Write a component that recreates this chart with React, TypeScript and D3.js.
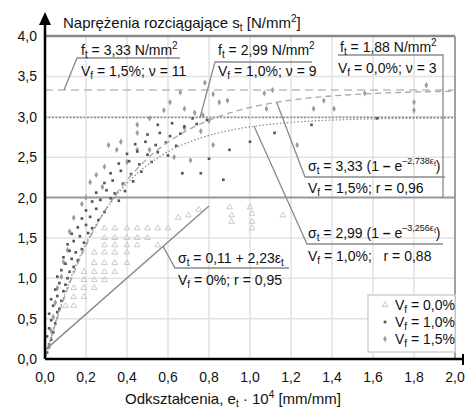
import React from "react";
import * as d3 from "d3";

// tick values on both axes
const xTicks = [0, 0.2, 0.4, 0.6, 0.8, 1.0, 1.2, 1.4, 1.6, 1.8, 2.0];
const yTicks = [0, 0.5, 1.0, 1.5, 2.0, 2.5, 3.0, 3.5, 4.0];

// measured points [strain e_t*10^4, stress N/mm2]
const vf00: [number, number][] = [
  [0.29, 1.62], [0.34, 1.62], [0.4, 1.62], [0.45, 1.62], [0.5, 1.62], [0.55, 1.62], [0.6, 1.62],
  [0.29, 1.5], [0.34, 1.5], [0.4, 1.5], [0.45, 1.5], [0.5, 1.5], [0.55, 1.41],
  [0.29, 1.41], [0.34, 1.41], [0.4, 1.41], [0.45, 1.41],
  [0.24, 1.32], [0.29, 1.32], [0.34, 1.32], [0.4, 1.32],
  [0.24, 1.19], [0.29, 1.19], [0.34, 1.19], [0.4, 1.19],
  [0.19, 1.08], [0.24, 1.08], [0.29, 1.08], [0.34, 1.08],
  [0.19, 0.98], [0.24, 0.98], [0.29, 0.98],
  [0.14, 0.88], [0.19, 0.88], [0.24, 0.88],
  [0.14, 0.77], [0.19, 0.77], [0.1, 0.66], [0.14, 0.66],
  [0.65, 1.75], [0.7, 1.78], [0.75, 1.85],
  [0.91, 1.78], [0.91, 1.7], [1.01, 1.8], [1.01, 1.7], [1.01, 1.62], [1.16, 1.78], [0.9, 1.88], [1.0, 1.88],
];

const vf10: [number, number][] = [
  [0.01, 0.08], [0.02, 0.18], [0.01, 0.28], [0.03, 0.24], [0.02, 0.38], [0.04, 0.33], [0.03, 0.48],
  [0.05, 0.44], [0.02, 0.56], [0.06, 0.58], [0.04, 0.66], [0.07, 0.62], [0.03, 0.74], [0.06, 0.78],
  [0.08, 0.72], [0.05, 0.86], [0.09, 0.84], [0.07, 0.94], [0.1, 0.92], [0.06, 1.02], [0.11, 1.0],
  [0.08, 1.1], [0.12, 1.08], [0.1, 1.18], [0.14, 1.14], [0.09, 1.26], [0.13, 1.24], [0.16, 1.22],
  [0.12, 1.34], [0.15, 1.32], [0.18, 1.36], [0.11, 1.42], [0.14, 1.46], [0.19, 1.44], [0.13, 1.55],
  [0.17, 1.52], [0.21, 1.56], [0.16, 1.63], [0.2, 1.66], [0.23, 1.62], [0.18, 1.74], [0.22, 1.76],
  [0.26, 1.72], [0.2, 1.84], [0.25, 1.86], [0.29, 1.82], [0.23, 1.95], [0.27, 1.97], [0.32, 1.99],
  [0.36, 1.96], [0.25, 2.06], [0.3, 2.09], [0.34, 2.05], [0.39, 2.08], [0.29, 2.18], [0.33, 2.21],
  [0.38, 2.17], [0.43, 2.2], [0.32, 2.3], [0.37, 2.33], [0.42, 2.29], [0.47, 2.32], [0.36, 2.42],
  [0.41, 2.45], [0.46, 2.41], [0.52, 2.44], [0.4, 2.54], [0.45, 2.57], [0.5, 2.53], [0.55, 2.56],
  [0.6, 2.52], [0.44, 2.66], [0.49, 2.69], [0.54, 2.65], [0.59, 2.68], [0.64, 2.64], [0.5, 2.78],
  [0.56, 2.8], [0.61, 2.76], [0.66, 2.79], [0.55, 2.9], [0.62, 2.92], [0.68, 2.88], [0.74, 2.91],
  [0.72, 2.98], [0.79, 2.96], [0.76, 2.3], [0.67, 2.3], [0.8, 2.48], [0.87, 2.22], [0.9, 2.59],
  [1.0, 2.69], [1.12, 2.8], [1.62, 2.98], [1.3, 2.9],
];

const vf15: [number, number][] = [
  [0.02, 0.15], [0.03, 0.35], [0.04, 0.52], [0.05, 0.7], [0.06, 0.88], [0.08, 1.02], [0.09, 1.2],
  [0.11, 1.35], [0.12, 1.58], [0.14, 1.75], [0.18, 1.92], [0.2, 2.0], [0.22, 2.19], [0.25, 2.28],
  [0.28, 2.13], [0.29, 2.38], [0.31, 2.65], [0.35, 2.59], [0.37, 2.69], [0.4, 2.44], [0.45, 2.59],
  [0.45, 2.8], [0.45, 2.9], [0.51, 2.98], [0.51, 2.59], [0.58, 3.08], [0.61, 3.18], [0.63, 2.5],
  [0.68, 2.86], [0.68, 3.1], [0.71, 2.46], [0.73, 3.05], [0.77, 3.02], [0.8, 2.95], [0.82, 3.28],
  [0.85, 3.18], [0.89, 3.2], [0.78, 3.42], [0.66, 3.3], [1.07, 3.29], [1.08, 3.1], [1.11, 3.33],
  [1.23, 2.65], [1.31, 3.1], [1.36, 3.2], [1.41, 3.1], [1.56, 3.29], [1.8, 3.18], [1.8, 3.08],
  [1.86, 3.39], [0.82, 2.65], [0.76, 2.82],
];

// regression results printed on the chart
const fit15 = { ft: 3.33, k: 2.738 };
const fit10 = { ft: 2.99, k: 3.256 };
const fit00 = { a: 0.11, b: 2.23, end: 0.8 };

const fmt = (v: number) => v.toFixed(1).replace(".", ",");

// sub/superscripts via baseline-shift so the rest of the line stays put
const Sub = ({ c, size = 10 }: { c: string; size?: number }) => (
  <tspan fontSize={size} baselineShift="-3">{c}</tspan>
);
const Sup = ({ c, size = 10 }: { c: string; size?: number }) => (
  <tspan fontSize={size} baselineShift="6">{c}</tspan>
);

const App = () => {
  const width = 465;
  const height = 409;
  const x = d3.scaleLinear().domain([0, 2]).range([45, 455]);
  const y = d3.scaleLinear().domain([0, 4]).range([359, 36]);
  const line = d3.line<[number, number]>().x((d) => x(d[0])).y((d) => y(d[1]));
  const expPts = (ft: number, k: number) =>
    d3.range(0, 2.001, 0.02).map((e) => [e, ft * (1 - Math.exp(-k * e))] as [number, number]);

  const tri = d3.symbol().type(d3.symbolTriangle).size(14)()!;
  const sq = d3.symbol().type(d3.symbolSquare).size(7)()!;
  const dia = d3.symbol().type(d3.symbolDiamond).size(12)()!;

  const font = "'Liberation Sans', Arial, sans-serif";
  const ink = "#111";
  const lead = "#8a8a8a";

  // leader anchor points on the fitted lines
  const e1 = 1.13;
  const p1: [number, number] = [x(e1), y(fit15.ft * (1 - Math.exp(-fit15.k * e1)))];
  const e2 = 1.02;
  const p2: [number, number] = [x(e2), y(fit10.ft * (1 - Math.exp(-fit10.k * e2)))];
  const e3 = 0.576;
  const p3: [number, number] = [x(e3), y(fit00.a + fit00.b * e3)];

  return (
    <svg
      width={width}
      height={height}
      style={{ position: "absolute", left: 0, top: 0, background: "#fff" }}
      fontFamily={font}
    >
      {/* grid */}
      {xTicks.slice(1).map((t) => (
        <line key={"gx" + t} x1={x(t)} x2={x(t)} y1={y(0)} y2={y(4)} stroke="#e2e2e2" strokeWidth={1.5} />
      ))}
      {yTicks.slice(1).map((t) => (
        <line key={"gy" + t} x1={x(0)} x2={x(2)} y1={y(t)} y2={y(t)} stroke="#e2e2e2" strokeWidth={1.5} />
      ))}
      <line x1={x(0)} x2={x(2)} y1={y(2)} y2={y(2)} stroke="#9a9a9a" strokeWidth={2} />
      <line x1={x(0)} x2={x(2)} y1={y(4)} y2={y(4)} stroke="#8a8a8a" strokeWidth={2.5} />
      <line x1={x(2)} x2={x(2)} y1={y(0)} y2={y(4)} stroke="#a0a0a0" strokeWidth={2} />

      {/* strength levels */}
      <line x1={x(0)} x2={x(2)} y1={y(fit15.ft)} y2={y(fit15.ft)} stroke="#bdbdbd" strokeWidth={1.5} strokeDasharray="8 5" />
      <line x1={x(0)} x2={x(2)} y1={y(fit10.ft)} y2={y(fit10.ft)} stroke="#8d8d8d" strokeWidth={1.5} strokeDasharray="2 1.5" />

      {/* points */}
      {vf00.map((d, i) => (
        <path key={"a" + i} d={tri} transform={`translate(${x(d[0])},${y(d[1])})`} fill="none" stroke="#c4c4c4" strokeWidth={0.9} />
      ))}
      {vf15.map((d, i) => (
        <path key={"c" + i} d={dia} transform={`translate(${x(d[0])},${y(d[1])})`} fill="#9c9c9c" />
      ))}
      {vf10.map((d, i) => (
        <path key={"b" + i} d={sq} transform={`translate(${x(d[0])},${y(d[1])})`} fill="#555" />
      ))}

      {/* fitted curves */}
      <path d={line(expPts(fit15.ft, fit15.k))!} fill="none" stroke="#a8a8a8" strokeWidth={1.3} strokeDasharray="6 4" />
      <path d={line(expPts(fit10.ft, fit10.k))!} fill="none" stroke="#909090" strokeWidth={1.3} strokeDasharray="1.5 2" />
      <path d={line([[0, fit00.a], [fit00.end, fit00.a + fit00.b * fit00.end]])!} fill="none" stroke="#8a8a8a" strokeWidth={1.4} />

      {/* leader lines */}
      <g stroke={lead} strokeWidth={1.3} fill="none">
        <polyline points={`180,58 77,58 64,${y(fit15.ft)}`} />
        <polyline points={`312,62 215,62 200,${y(fit10.ft)}`} />
        <polyline points={`338,55 443,55 443,${y(2)}`} />
        <polyline points={`445,177 305,177 ${p1[0]},${p1[1]}`} />
        <polyline points={`443,244 307,244 ${p2[0]},${p2[1]}`} />
        <polyline points={`289,268 175,268 ${p3[0]},${p3[1]}`} />
      </g>

      {/* axes */}
      <line x1={x(0)} x2={462} y1={y(0)} y2={y(0)} stroke="#000" strokeWidth={2.5} />
      <line x1={463} x2={463} y1={y(0) - 5} y2={y(0) + 6} stroke="#000" strokeWidth={2} />
      <line x1={x(0)} x2={x(0)} y1={y(0)} y2={24} stroke="#000" strokeWidth={2.5} />
      <path d={`M${x(0)},12 L${x(0) - 6},25 L${x(0) + 6},25 Z`} fill="#000" />

      <g fontSize={14} fill={ink}>
        {yTicks.map((t) => (
          <text key={"yl" + t} x={37} y={y(t) + 5} textAnchor="end">{fmt(t)}</text>
        ))}
        {xTicks.map((t) => (
          <text key={"xl" + t} x={x(t)} y={382} textAnchor="middle">{fmt(t)}</text>
        ))}
        <text x={63} y={28} fontSize={15}>
          Naprężenia rozciągające s<Sub c="t" /> [N/mm<Sup c="2" />]
        </text>
        <text x={125} y={404} fontSize={15}>
          Odkształcenia, e<Sub c="t" /> · 10<Sup c="4" /> [mm/mm]
        </text>

        <text x={81} y={55}>f<Sub c="t" /> = 3,33 N/mm<Sup c="2" /></text>
        <text x={81} y={76}>V<Sub c="f" /> = 1,5%; ν = 11</text>
        <text x={218} y={55}>f<Sub c="t" /> = 2,99 N/mm<Sup c="2" /></text>
        <text x={218} y={76}>V<Sub c="f" /> = 1,0%; ν = 9</text>
        <text x={340} y={52}>f<Sub c="t" /> = 1,88 N/mm<Sup c="2" /></text>
        <text x={338} y={73}>V<Sub c="f" /> = 0,0%; ν = 3</text>

        <text x={308} y={171}>
          σ<Sub c="t" /> = 3,33 (1 <tspan fontWeight="bold">–</tspan> e
          <tspan fontSize={9} baselineShift="7">–2,738ε<tspan fontSize={7} baselineShift="-2">t</tspan></tspan>)
        </text>
        <text x={308} y={193}>V<Sub c="f" /> = 1,5%; r = 0,96</text>
        <text x={308} y={238}>
          σ<Sub c="t" /> = 2,99 (1 <tspan fontWeight="bold">–</tspan> e
          <tspan fontSize={9} baselineShift="7">–3,256ε<tspan fontSize={7} baselineShift="-2">t</tspan></tspan>)
        </text>
        <text x={308} y={261} style={{ whiteSpace: "pre" }}>V<Sub c="f" /> = 1,0%;   r = 0,88</text>
        <text x={178} y={263}>σ<Sub c="t" /> = 0,11 + 2,23ε<Sub c="t" /></text>
        <text x={178} y={285}>V<Sub c="f" /> = 0%; r = 0,95</text>
      </g>

      {/* legend */}
      <rect x={368} y={295} width={87} height={57} fill="#fff" stroke="#d0d0d0" strokeWidth={1.5} />
      <path d={tri} transform="translate(385,305)" fill="none" stroke="#c4c4c4" strokeWidth={0.9} />
      <path d={sq} transform="translate(385,322)" fill="#555" />
      <path d={dia} transform="translate(385,339)" fill="#9c9c9c" />
      <g fontSize={14} fill={ink}>
        <text x={395} y={310}>V<Sub c="f" /> = 0,0%</text>
        <text x={395} y={327}>V<Sub c="f" /> = 1,0%</text>
        <text x={395} y={344}>V<Sub c="f" /> = 1,5%</text>
      </g>
    </svg>
  );
};

export default App;
